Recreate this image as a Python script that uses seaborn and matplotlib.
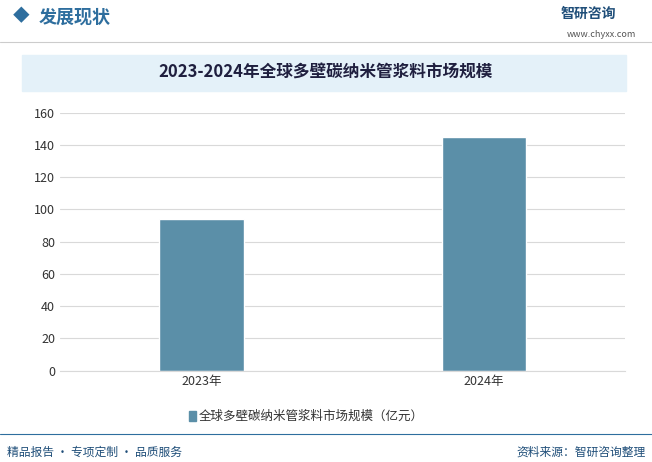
import matplotlib.pyplot as plt
import seaborn as sns
import pandas as pd

years = ["2023年", "2024年"]
values = [94.0, 144.7]
series_name = "全球多壁碳纳米管浆料市场规模（亿元）"
chart_title = "2023-2024年全球多壁碳纳米管浆料市场规模"

sns.set_style("white")
plt.rcParams['font.family'] = ['Noto Sans CJK SC', 'DejaVu Sans']

df = pd.DataFrame({"year": years, "value": values})

fig = plt.figure(figsize=(6.52, 4.62), dpi=100)
ax = fig.add_axes([0.092, 0.198, 0.867, 0.558])

sns.barplot(data=df, x="year", y="value", color="#5b8fa8", width=0.3, ax=ax, saturation=1)
ax.set_ylim(0, 160)
ax.set_yticks(range(0, 161, 20))
ax.set_xlabel("")
ax.set_ylabel("")
ax.yaxis.grid(True, color="#d9d9d9", linewidth=0.8)
ax.set_axisbelow(True)
for s in ["top", "right", "left"]:
    ax.spines[s].set_visible(False)
ax.spines["bottom"].set_color("#d9d9d9")
ax.tick_params(axis="both", length=0, labelsize=9, colors="#333333")

# header
fig.patches.append(plt.Rectangle((0, 0.925), 1, 0.075, transform=fig.transFigure, color="white"))
fig.text(0.02, 0.963, "◆", fontsize=12, color="#2e6e9e", va="center")
fig.text(0.06, 0.963, "发展现状", fontsize=13, color="#2e6e9e", fontweight="bold", va="center")
fig.text(0.945, 0.97, "智研咨询", fontsize=10, color="#1f4e79", fontweight="bold", ha="right", va="center")
fig.text(0.975, 0.925, "www.chyxx.com", fontsize=6.5, color="#555555", ha="right", va="center")
fig.lines.append(plt.Line2D([0, 1], [0.91, 0.91], transform=fig.transFigure, color="#cccccc", lw=0.8))

# title band
fig.patches.append(plt.Rectangle((0.033, 0.803), 0.927, 0.078, transform=fig.transFigure, color="#e4f1f9"))
fig.text(0.5, 0.842, chart_title, fontsize=12, fontweight="bold", color="#1f1f3f", ha="center", va="center")

# legend
fig.patches.append(plt.Rectangle((0.29, 0.088), 0.011, 0.022, transform=fig.transFigure, color="#5b8fa8"))
fig.text(0.305, 0.099, series_name, fontsize=9, color="#333333", va="center")

# footer
fig.lines.append(plt.Line2D([0, 1], [0.06, 0.06], transform=fig.transFigure, color="#2e6e9e", lw=0.8))
fig.text(0.01, 0.022, "精品报告 · 专项定制 · 品质服务", fontsize=8.5, color="#1f4e79", va="center")
fig.text(0.99, 0.022, "资料来源：智研咨询整理", fontsize=8.5, color="#1f4e79", ha="right", va="center")

fig.savefig("out.png", dpi=100)
